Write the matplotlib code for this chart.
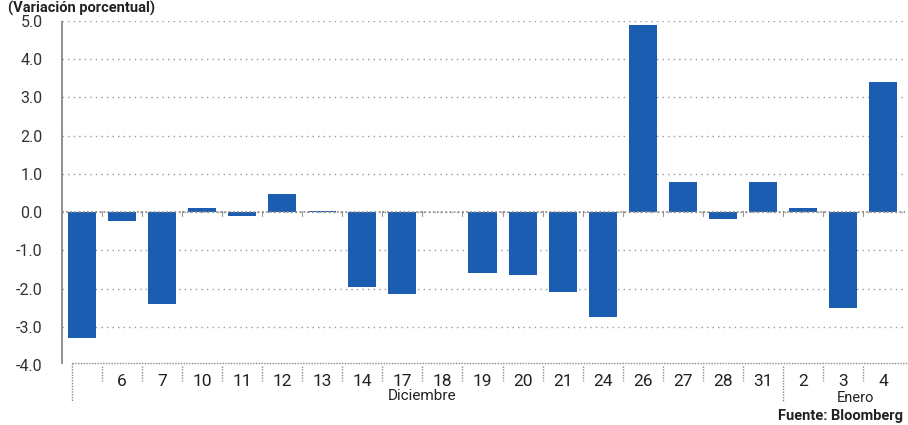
import matplotlib.pyplot as plt
import matplotlib.transforms as mtransforms

# Data
days = ["", "6", "7", "10", "11", "12", "13", "14", "17", "18", "19",
        "20", "21", "24", "26", "27", "28", "31", "2", "3", "4"]
changes = [-3.3, -0.22, -2.4, 0.12, -0.1, 0.47, 0.02, -1.95, -2.14, 0.0, -1.6,
           -1.65, -2.1, -2.75, 4.9, 0.8, -0.18, 0.8, 0.1, -2.5, 3.4]
months = ["Diciembre", "Enero"]
month_starts = [0, 18]

plt.rcParams['font.family'] = ['Roboto', 'DejaVu Sans']

W, H = 908, 425
fig = plt.figure(figsize=(W / 100, H / 100), dpi=100)
ax = fig.add_axes([62 / W, 1 - 365 / H, (905 - 62) / W, (365 - 21) / H])

x = list(range(len(days)))
ax.bar(x, changes, width=0.7, color='#1b5db0', zorder=3)

ax.set_xlim(-0.5, 20.55)
ax.set_ylim(-4, 5)
ax.set_yticks(range(-4, 6))
ax.set_yticklabels([f"{v:.1f}" for v in range(-4, 6)], fontsize=11.5, color='#333333')
ax.tick_params(axis='y', length=0, pad=14)
ax.set_xticks([])

# dotted grid
for v in range(-3, 6):
    ax.axhline(v, color='#9a9a9a', lw=1, ls=(0, (1, 3)), zorder=1)
ax.axhline(0, color='#888888', lw=1.2, ls=(0, (1, 1.5)), zorder=4)

for s in ['top', 'right', 'bottom']:
    ax.spines[s].set_visible(False)
ax.spines['left'].set_color('#888888')
ax.spines['left'].set_linestyle((0, (1, 1)))
ax.spines['left'].set_linewidth(1.3)
ax.spines['left'].set_bounds(-3.95, 5)

# category label band below the plot
trans = mtransforms.blended_transform_factory(ax.transData, fig.transFigure)
top = 1 - 363 / H
low = 1 - 381 / H
deep = 1 - 402 / H
dot = dict(color='#8a8a8a', lw=1, ls=(0, (1, 1)), clip_on=False, transform=trans)
ax.plot([-0.25, 20.65], [top, top], **dot)
ax.plot([-0.25, -0.25], [top, deep], **dot)
for i in range(len(days) - 1):
    b = i + 0.5
    y_end = deep if (i + 1) in month_starts else low
    ax.plot([b, b], [top - 0.008, y_end], **dot)
    ax.plot([b, b], [1 - 211 / H, 1 - 216 / H], color='#999999', lw=0.8,
            clip_on=False, transform=trans)
ax.plot([20.65, 20.65], [top, low], **dot)

for i, d in enumerate(days):
    ax.text(i, 1 - 382 / H, d, transform=trans, ha='center', va='center',
            fontsize=12.5, color='#222222')

ax.text(8.5, 1 - 396 / H, months[0], transform=trans, ha='center', va='center',
        fontsize=11, color='#222222')
ax.text(19.3, 1 - 398 / H, months[1], transform=trans, ha='center', va='center',
        fontsize=10.5, color='#222222')

fig.text(903 / W, 1 - 416 / H, "Fuente: Bloomberg", ha='right', va='center',
         fontsize=10.5, fontweight='bold', color='#222222')
fig.text(8 / W, 1 - 1 / H, "(Variación porcentual)", ha='left', va='top',
         fontsize=10.5, fontweight='bold', color='#222222')

fig.savefig('out.png', dpi=100)
